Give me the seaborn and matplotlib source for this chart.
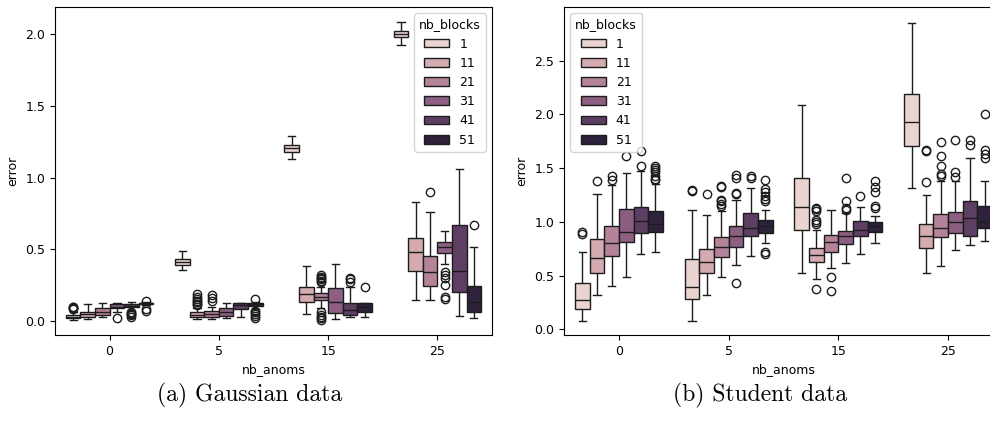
import numpy as np
import pandas as pd
import matplotlib
matplotlib.use("Agg")
import matplotlib.pyplot as plt
import seaborn as sns

plt.rcParams["font.size"] = 9

nb_anoms = [0, 5, 15, 25]
nb_blocks = [1, 11, 21, 31, 41, 51]

# ---- Gaussian data: box statistics (rows: nb_anoms, cols: nb_blocks)
gauss_whislo = [[0.01, 0.012, 0.025, 0.06, 0.07, 0.11],
                [0.355, 0.015, 0.015, 0.02, 0.025, 0.085],
                [1.13, 0.05, 0.09, 0.012, 0.026, 0.026],
                [1.927, 0.147, 0.147, 0.398, 0.035, 0.019]]
gauss_q1 = [[0.02, 0.03, 0.04, 0.09, 0.095, 0.118],
            [0.39, 0.03, 0.03, 0.035, 0.082, 0.105],
            [1.182, 0.135, 0.147, 0.054, 0.042, 0.06],
            [1.98, 0.351, 0.247, 0.473, 0.2, 0.061]]
gauss_med = [[0.03, 0.048, 0.065, 0.10, 0.105, 0.122],
             [0.41, 0.045, 0.05, 0.06, 0.11, 0.115],
             [1.206, 0.19, 0.17, 0.135, 0.077, 0.10],
             [2.004, 0.48, 0.34, 0.519, 0.351, 0.13]]
gauss_q3 = [[0.04, 0.065, 0.09, 0.12, 0.115, 0.125],
            [0.43, 0.06, 0.07, 0.089, 0.125, 0.122],
            [1.229, 0.24, 0.193, 0.233, 0.124, 0.124],
            [2.025, 0.577, 0.456, 0.554, 0.666, 0.247]]
gauss_whishi = [[0.06, 0.115, 0.125, 0.125, 0.13, 0.13],
                [0.485, 0.09, 0.1, 0.125, 0.125, 0.13],
                [1.287, 0.384, 0.24, 0.398, 0.24, 0.124],
                [2.083, 0.829, 0.759, 0.624, 1.059, 0.515]]
gauss_fliers = [[[0.08, 0.09, 0.095, 0.1], [], [], [0.02], [0.03, 0.04, 0.05, 0.055, 0.06], [0.07, 0.085, 0.14]],
                [[], [0.11, 0.12, 0.13, 0.14, 0.155, 0.17, 0.185], [0.14, 0.16, 0.18], [], [],
                 [0.02, 0.035, 0.05, 0.06, 0.07, 0.15]],
                [[], [], [0.01, 0.02, 0.03, 0.045, 0.06, 0.27, 0.28, 0.29, 0.3, 0.31, 0.32], [],
                 [0.27, 0.29, 0.3], [0.24]],
                [[], [], [0.899], [0.15, 0.17, 0.25, 0.3, 0.32, 0.34], [], [0.666]]]

# ---- Student data
stud_whislo = [[0.08, 0.32, 0.40, 0.49, 0.70, 0.724],
               [0.08, 0.32, 0.49, 0.60, 0.684, 0.80],
               [0.528, 0.466, 0.57, 0.616, 0.70, 0.80],
               [1.316, 0.52, 0.59, 0.74, 0.786, 0.82]]
stud_q1 = [[0.189, 0.528, 0.684, 0.81, 0.895, 0.91],
           [0.28, 0.528, 0.677, 0.765, 0.864, 0.90],
           [0.926, 0.625, 0.724, 0.793, 0.873, 0.91],
           [1.71, 0.761, 0.86, 0.896, 0.87, 0.94]]
stud_med = [[0.273, 0.668, 0.80, 0.91, 1.004, 0.982],
            [0.39, 0.63, 0.77, 0.864, 0.94, 0.957],
            [1.138, 0.687, 0.81, 0.864, 0.926, 0.957],
            [1.931, 0.87, 0.947, 0.995, 1.04, 0.995]]
stud_q3 = [[0.429, 0.84, 0.964, 1.12, 1.138, 1.097],
           [0.653, 0.746, 0.858, 0.957, 1.08, 1.013],
           [1.408, 0.761, 0.88, 0.917, 1.01, 0.995],
           [2.186, 0.98, 1.07, 1.09, 1.19, 1.15]]
stud_whishi = [[0.715, 1.26, 1.346, 1.455, 1.47, 1.35],
               [1.113, 1.066, 1.10, 1.2, 1.315, 1.11],
               [2.09, 0.92, 1.107, 1.08, 1.134, 1.057],
               [2.855, 1.246, 1.38, 1.377, 1.59, 1.377]]
stud_fliers = [[[0.89, 0.91], [1.377], [1.39, 1.43], [1.61], [1.52, 1.66],
                [1.39, 1.40, 1.43, 1.46, 1.48, 1.50, 1.52]],
               [[1.29, 1.30], [1.26], [1.15, 1.17, 1.19, 1.2, 1.32, 1.33],
                [0.43, 1.26, 1.27, 1.41, 1.44], [1.41, 1.43],
                [0.70, 0.715, 1.19, 1.21, 1.24, 1.28, 1.31, 1.39]],
               [[], [0.373, 0.98, 1.0, 1.02, 1.1, 1.12, 1.13], [0.36, 0.485],
                [1.11, 1.13, 1.19, 1.41], [1.24], [1.13, 1.15, 1.28, 1.32, 1.38]],
               [[], [1.37, 1.657, 1.665], [1.43, 1.45, 1.52, 1.61, 1.74], [1.42, 1.46, 1.76],
                [1.72, 1.76], [1.59, 1.63, 1.67, 2.0]]]


def box_sample(lo, q1, med, q3, hi, fl):
    """Sorted sample whose quartiles / whiskers / fliers equal the given statistics."""
    low = sorted(v for v in fl if v < q1)
    high = sorted(v for v in fl if v > q3)
    a, b = len(low), len(high)
    k = max(a, b) + 2
    return (low + [lo] + [q1] * (k - a) + [med] * k + [q3] * (2 * k - b - 1)
            + [hi] + high)


def build_frame(wlo, q1, med, q3, whi, fl):
    rows = []
    for i, na in enumerate(nb_anoms):
        for j, nbk in enumerate(nb_blocks):
            for v in box_sample(wlo[i][j], q1[i][j], med[i][j], q3[i][j], whi[i][j], fl[i][j]):
                rows.append((na, nbk, v))
    return pd.DataFrame(rows, columns=["nb_anoms", "nb_blocks", "error"])


df_gauss = build_frame(gauss_whislo, gauss_q1, gauss_med, gauss_q3, gauss_whishi, gauss_fliers)
df_stud = build_frame(stud_whislo, stud_q1, stud_med, stud_q3, stud_whishi, stud_fliers)

W, H = 990, 423
fig = plt.figure(figsize=(W / 100, H / 100), dpi=100)
ax1 = fig.add_axes([55 / W, (H - 335) / H, 437 / W, 328 / H])
ax2 = fig.add_axes([564 / W, (H - 335) / H, 439 / W, 328 / H])

sns.boxplot(data=df_gauss, x="nb_anoms", y="error", hue="nb_blocks", ax=ax1)
sns.boxplot(data=df_stud, x="nb_anoms", y="error", hue="nb_blocks", ax=ax2)

ax1.set_ylim(-0.098, 2.19)
ax2.set_ylim(-0.053, 3.0)
ax1.set_yticks([0.0, 0.5, 1.0, 1.5, 2.0])
ax2.set_yticks([0.0, 0.5, 1.0, 1.5, 2.0, 2.5])

sns.move_legend(ax1, "upper right", title="nb_blocks")
sns.move_legend(ax2, "upper left", title="nb_blocks")

fig.text(250 / W, 1 - 395 / H, "(a) Gaussian data", ha="center", va="center",
         family="cmr10", fontsize=17)
fig.text(760 / W, 1 - 395 / H, "(b) Student data", ha="center", va="center",
         family="cmr10", fontsize=17)

fig.savefig("out.png", dpi=100)
